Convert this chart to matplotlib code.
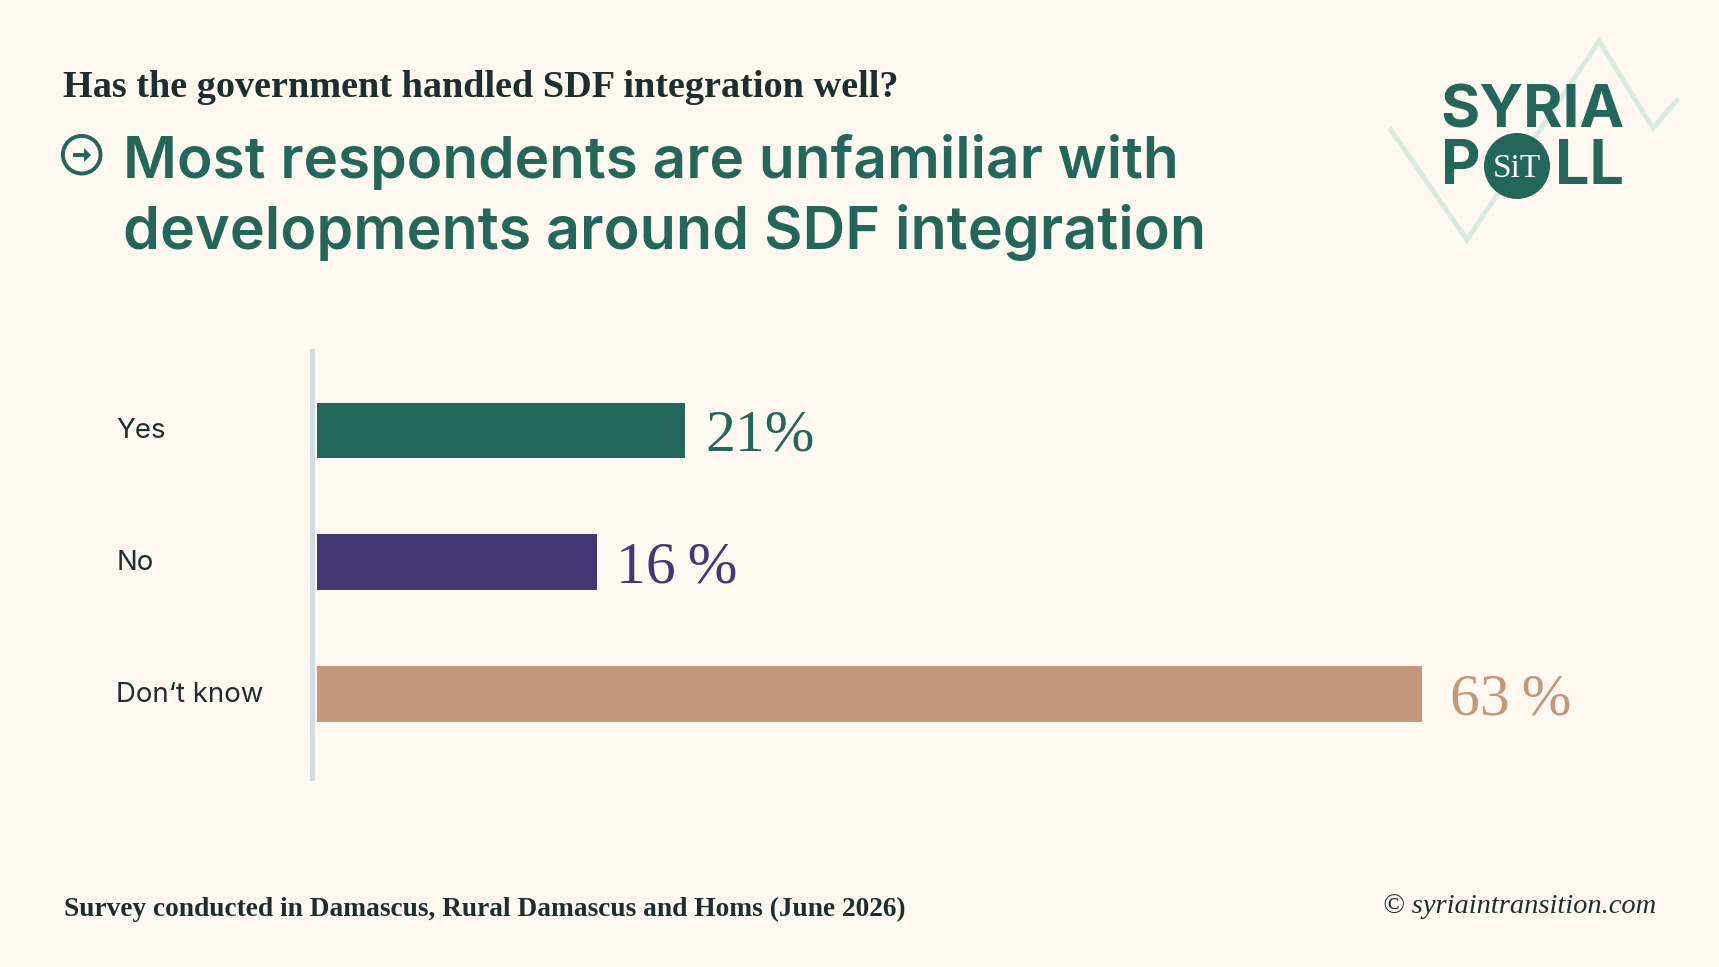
import matplotlib
matplotlib.use("Agg")
import matplotlib.pyplot as plt
from matplotlib.patches import Circle, Polygon
from matplotlib.transforms import ScaledTranslation

categories = ["Yes", "No", "Don\u2018t know"]
values = [21, 16, 63]
value_labels = ["21%", "16\u2009%", "63\u2009%"]
bar_colors = ["#23665A", "#443775", "#C3977B"]

question = "Has the government handled SDF integration well?"
title_lines = ["Most respondents are unfamiliar with", "developments around SDF integration"]
source = "Survey conducted in Damascus, Rural Damascus and Homs (June 2026)"
credit = "\u00a9 syriaintransition.com"

BG = "#FFF8F1"
GREEN = "#23665A"
INK = "#1C2F2E"
W, H = 1719, 967
SANS = "Inter"
SERIF = "Liberation Serif"

fig = plt.figure(figsize=(W / 100, H / 100), dpi=100, facecolor=BG)

# Decoration layer in pixel coordinates
deco = fig.add_axes([0, 0, 1, 1], zorder=0)
deco.set_xlim(0, W)
deco.set_ylim(H, 0)
deco.axis("off")

# Chart axes
L, R, T, B = 316.5, 1670, 350.5, 777.5
ax = fig.add_axes([L / W, 1 - B / H, (R - L) / W, (B - T) / H], zorder=1)
ax.patch.set_alpha(0)
px_per_pct = 17.55
ax.set_xlim(0, (R - L) / px_per_pct)
ax.set_ylim(2.629, -0.606)
ypos = range(len(categories))
ax.barh(list(ypos), values, height=0.424, color=bar_colors)
for s in ["top", "right", "bottom"]:
    ax.spines[s].set_visible(False)
ax.spines["left"].set_position(("outward", 2.9))
ax.spines["left"].set_color("#D0DCE2")
ax.spines["left"].set_linewidth(3.6)
ax.set_xticks([])
ax.set_yticks(list(ypos), categories)
ax.tick_params(axis="y", length=0, pad=(L - 120.5) * 0.72)
shift = ScaledTranslation(0, -8 / 100, fig.dpi_scale_trans)
for lab in ax.get_yticklabels():
    lab.set(ha="left", va="baseline", fontfamily=SANS, fontsize=19.9, color=INK)
    lab.set_transform(lab.get_transform() + shift)

offsets = [1.15, 1.05, 1.6]
for i, (v, t, c, o) in enumerate(zip(values, value_labels, bar_colors, offsets)):
    ax.annotate(t, (v, i), xytext=(o * px_per_pct * 0.72, -14.5), textcoords="offset points",
                ha="left", va="baseline", fontfamily=[SERIF, "DejaVu Serif"], fontsize=43, color=c)

# Header
deco.text(63, 97, question, fontfamily=SERIF, fontweight="bold", fontsize=27.5, color=INK, va="baseline")
deco.add_patch(Circle((81.7, 154.7), 18.8, fc="none", ec=GREEN, lw=2.8))
deco.plot([73, 85], [155, 155], color=GREEN, lw=2.8, solid_capstyle="butt")
deco.add_patch(Polygon([[84, 148], [91, 155], [84, 162]], fc=GREEN, ec="none"))
deco.text(123, 178, title_lines[0], fontfamily=SANS, fontweight="semibold", fontsize=42.15, color=GREEN, va="baseline")
deco.text(123, 249, title_lines[1], fontfamily=SANS, fontweight="semibold", fontsize=42.6, color=GREEN, va="baseline")

# Logo
deco.plot([1391, 1467, 1599, 1653, 1677], [130, 240, 41, 128, 100], color="#D9EBE1", lw=3.6,
          solid_joinstyle="miter", zorder=1)
deco.text(1440, 127, "SYRIA", fontfamily=SANS, fontweight="bold", fontsize=43.2, color=GREEN, va="baseline", zorder=2)
deco.text(1441, 184, "P", fontfamily=SANS, fontweight="bold", fontsize=44, color=GREEN, va="baseline", zorder=2)
deco.text(1555, 184, "LL", fontfamily=SANS, fontweight="bold", fontsize=44, color=GREEN, va="baseline", zorder=2)
deco.add_patch(Circle((1517, 166), 33, fc=GREEN, ec="none", zorder=3))
deco.text(1517, 177, "SiT", fontfamily=SERIF, fontsize=24, color="white", ha="center", va="baseline", zorder=4)

# Footer
deco.text(64, 916, source, fontfamily=SERIF, fontweight="bold", fontsize=19.75, color=INK, va="baseline")
deco.text(1656, 913, credit, fontfamily=SERIF, fontstyle="italic", fontsize=20.5, color=INK, ha="right", va="baseline")

fig.savefig("out.png", dpi=100, facecolor=BG)
